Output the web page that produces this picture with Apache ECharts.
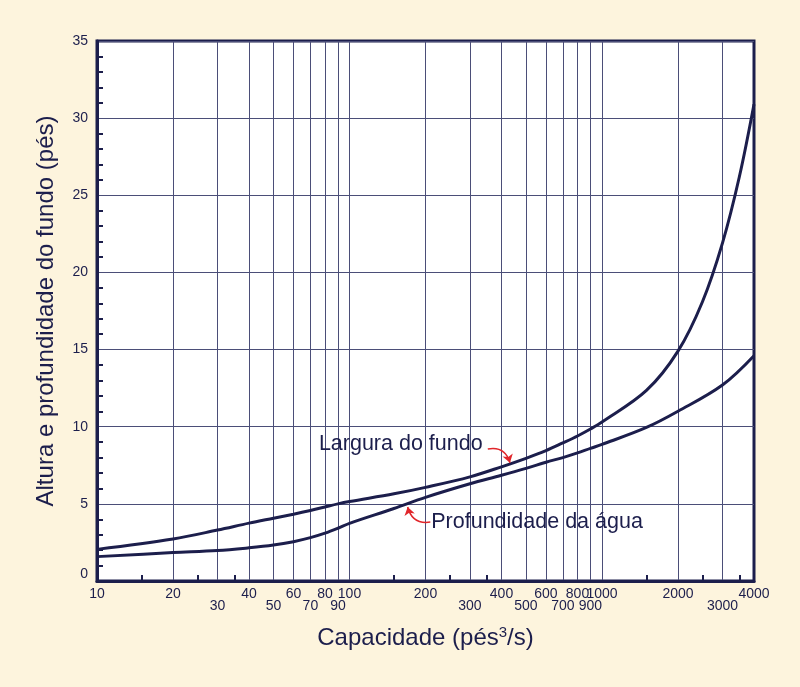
<!DOCTYPE html>
<html>
<head>
<meta charset="utf-8">
<script src="https://cdn.jsdelivr.net/npm/echarts@6/dist/echarts.min.js"></script>
<style>
  html, body { margin: 0; padding: 0; background: #fdf4dd; }
  #chart { width: 800px; height: 687px; }
</style>
</head>
<body>
<div id="chart"></div>
<script>
// capacidade (pés3/s) e valores
const capLargura = [10, 20, 30, 40, 50, 60, 70, 80, 90, 100, 150, 200, 300, 400, 500, 600, 700, 800, 900, 1000, 1500, 2000, 2500, 3000, 3500, 4000];
const largura = [2.05, 2.72, 3.3, 3.75, 4.07, 4.33, 4.57, 4.8, 5.0, 5.15, 5.65, 6.07, 6.75, 7.4, 7.95, 8.45, 8.95, 9.4, 9.85, 10.3, 12.35, 14.9, 18.1, 21.9, 26.2, 30.9];

const capAgua = [10, 20, 30, 40, 50, 60, 70, 80, 90, 100, 150, 200, 300, 400, 500, 600, 700, 800, 900, 1000, 1500, 2000, 3000, 4000];
const agua = [1.58, 1.84, 1.97, 2.15, 2.33, 2.55, 2.81, 3.1, 3.42, 3.74, 4.7, 5.42, 6.3, 6.85, 7.3, 7.7, 8.0, 8.3, 8.6, 8.85, 9.95, 11.0, 12.7, 14.6];

// eixo x: linhas de grade, rótulos em duas fileiras e marcas menores
const gradeX = [20, 30, 40, 50, 60, 70, 80, 90, 100, 200, 300, 400, 500, 600, 700, 800, 900, 1000, 2000, 3000];
const rotulosCima = [10, 20, 40, 60, 80, 100, 200, 400, 600, 800, 1000, 2000, 4000];
const rotulosBaixo = [30, 50, 70, 90, 300, 500, 700, 900, 3000];
const marcasMenores = [15, 25, 35, 150, 250, 350, 1500, 2500, 3500];

// anotações: ponto do texto e setas (início -> ponta)
const notaLargura = [343, 8.9];
const setaLargura = [[353, 8.55], [432, 7.67]];
const notaAgua = [207, 3.85];
const setaAgua = [[209, 3.82], [170, 4.8]];

const navy = '#1c1e4c';
const vermelho = '#e1262b';
const fonte = '"Liberation Sans", Arial, Helvetica, sans-serif';

const chart = echarts.init(document.getElementById('chart'));

const rotuloX = (v) => String(Math.round(v));

const option = {
  backgroundColor: '#fdf4dd',
  textStyle: { fontFamily: fonte },
  grid: {
    left: 97,
    right: 46,
    top: 41,
    bottom: 106,
    show: true,
    backgroundColor: '#ffffff',
    borderColor: navy,
    borderWidth: 3,
  },
  xAxis: [
    {
      type: 'log',
      logBase: 10,
      min: 10,
      max: 4000,
      position: 'bottom',
      name: 'Capacidade (pés{sup|3}/s)',
      nameLocation: 'middle',
      nameGap: 44,
      nameTextStyle: {
        color: navy,
        fontSize: 24,
        fontFamily: fonte,
        rich: {
          sup: { fontSize: 15, color: navy, fontFamily: fonte, verticalAlign: 'bottom', padding: [0, 0, 11, 0] },
        },
      },
      axisLine: { show: true, lineStyle: { color: navy, width: 3 } },
      axisTick: { show: false, customValues: gradeX },
      splitLine: { show: true, lineStyle: { color: '#4b4e78', width: 1 } },
      axisLabel: {
        customValues: rotulosCima,
        formatter: rotuloX,
        margin: 6,
        color: navy,
        fontSize: 14,
        fontFamily: fonte,
        showMinLabel: true,
        showMaxLabel: true,
      },
    },
    {
      type: 'log',
      logBase: 10,
      min: 10,
      max: 4000,
      position: 'bottom',
      axisLine: { show: false },
      axisTick: {
        show: true,
        inside: true,
        length: 6,
        customValues: marcasMenores,
        lineStyle: { color: navy, width: 2 },
      },
      splitLine: { show: false },
      axisLabel: {
        customValues: rotulosBaixo,
        formatter: rotuloX,
        margin: 18,
        color: navy,
        fontSize: 14,
        fontFamily: fonte,
      },
    },
  ],
  yAxis: {
    type: 'value',
    min: 0,
    max: 35,
    interval: 5,
    name: 'Altura e profundidade do fundo (pés)',
    nameLocation: 'middle',
    nameGap: 39,
    nameTextStyle: { color: navy, fontSize: 24, fontFamily: fonte },
    axisLine: { show: true, lineStyle: { color: navy, width: 3 } },
    axisTick: { show: false, inside: true },
    minorTick: { show: true, splitNumber: 5, length: 6, lineStyle: { color: navy, width: 2 } },
    splitLine: { show: true, lineStyle: { color: '#4b4e78', width: 1 } },
    axisLabel: {
      margin: 9,
      color: navy,
      fontSize: 14,
      fontFamily: fonte,
      formatter: (v) => (v === 0 ? '{z|0}' : String(v)),
      rich: { z: { fontSize: 14, color: navy, fontFamily: fonte, padding: [0, 0, 14, 0] } },
    },
  },
  series: [
    {
      name: 'Largura do fundo',
      type: 'line',
      data: capLargura.map((c, i) => [c, largura[i]]),
      smooth: 0.35,
      symbol: 'none',
      lineStyle: { color: navy, width: 3 },
      markPoint: {
        symbol: 'circle',
        symbolSize: 0,
        data: [{ coord: notaLargura, value: 'Largura do fundo' }],
        label: {
          show: true,
          position: 'left',
          distance: 2,
          formatter: 'Largura do fundo',
          color: navy,
          fontSize: 21.5,
          fontFamily: fonte,
        },
      },
    },
    {
      name: 'Profundidade da água',
      type: 'line',
      data: capAgua.map((c, i) => [c, agua[i]]),
      smooth: 0.35,
      symbol: 'none',
      lineStyle: { color: navy, width: 3 },
      markPoint: {
        symbol: 'circle',
        symbolSize: 0,
        data: [{ coord: notaAgua, value: 'Profundidade da água' }],
        label: {
          show: true,
          position: 'right',
          distance: 2,
          formatter: 'Profundidade da água',
          color: navy,
          fontSize: 21.5,
          fontFamily: fonte,
        },
      },
    },
    {
      type: 'lines',
      coordinateSystem: 'cartesian2d',
      silent: true,
      symbol: ['none', 'arrow'],
      symbolSize: 8,
      lineStyle: { color: vermelho, width: 1.5, opacity: 1 },
      z: 5,
      data: [
        { coords: setaLargura, lineStyle: { curveness: 0.45 } },
        { coords: setaAgua, lineStyle: { curveness: 0.45 } },
      ],
    },
  ],
};

chart.setOption(option);
</script>
</body>
</html>
